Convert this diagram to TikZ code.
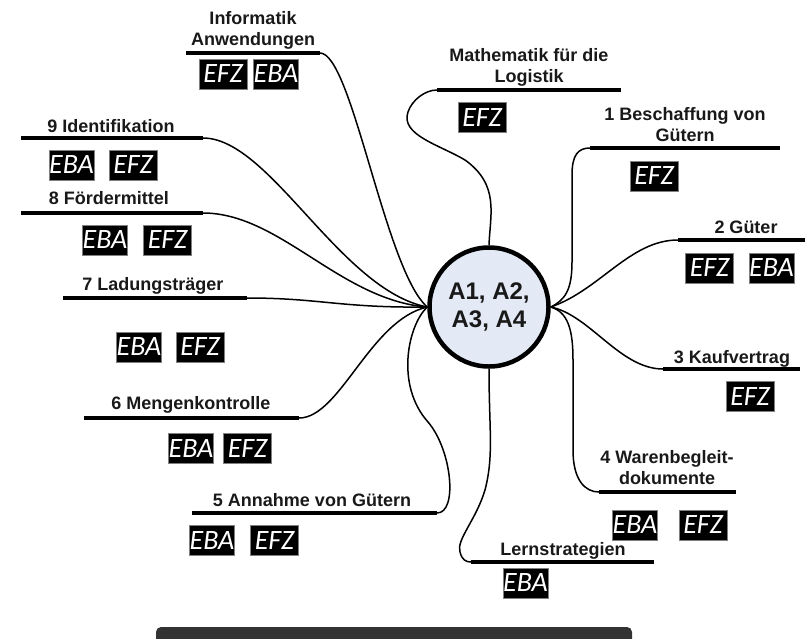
\documentclass[tikz,border=0pt]{standalone}
\usepackage{fontspec}
\setmainfont{Liberation Sans}
\newfontfamily\badgefont{Carlito}
\definecolor{cfill}{HTML}{E3EAF6}
\definecolor{barc}{HTML}{333333}
\begin{document}
\begin{tikzpicture}[x=1pt,y=-1pt,
  lbl/.style={font=\fontsize{18}{21}\selectfont\bfseries, text=black!90, inner sep=0pt, anchor=base},
  uline/.style={line width=4.2pt},
  conn/.style={line width=1.5pt},
  badge/.style={fill=black, draw=black!50, line width=0.8pt, text=white, inner sep=0pt,
    minimum height=30pt, font=\badgefont\itshape\fontsize{28}{28}\selectfont},
  efz/.style={badge, minimum width=48pt},
  eba/.style={badge, minimum width=44pt}]
\useasboundingbox (0,0) rectangle (805,638);

% centre
\node[circle, draw, line width=4.5pt, fill=cfill, minimum size=119pt, inner sep=0pt,
  align=center, font=\fontsize{24}{28}\selectfont\bfseries, text=black!90] (c) at (489,307) {A1, A2,\\A3, A4};

% underlines
\coordinate (inA) at (186,53);  \coordinate (inB) at (320,53);
\coordinate (maA) at (437,90);  \coordinate (maB) at (621,90);
\coordinate (b1A) at (590,148); \coordinate (b1B) at (780,148);
\coordinate (b2A) at (678,240); \coordinate (b2B) at (805,240);
\coordinate (b3A) at (663,369); \coordinate (b3B) at (800,369);
\coordinate (b4A) at (599,492); \coordinate (b4B) at (736,492);
\coordinate (lsA) at (471,562); \coordinate (lsB) at (654,562);
\coordinate (b5A) at (192,513); \coordinate (b5B) at (437,513);
\coordinate (b6A) at (84,418);  \coordinate (b6B) at (299,418);
\coordinate (b7A) at (63,298);  \coordinate (b7B) at (247,298);
\coordinate (b8A) at (21,213);  \coordinate (b8B) at (203,213);
\coordinate (b9A) at (21,138);  \coordinate (b9B) at (203,138);
\foreach \p in {in,ma,b1,b2,b3,b4,ls,b5,b6,b7,b8,b9}
  \draw[uline] (\p A) -- (\p B);

% labels
\node[lbl] (tin) at (253,45) {\begin{tabular}[b]{c}Informatik\\Anwendungen\end{tabular}};
\node[lbl] (tma) at (529,82) {\begin{tabular}[b]{c}Mathematik für die\\Logistik\end{tabular}};
\node[lbl] (t1) at (685,141) {\begin{tabular}[b]{c}1 Beschaffung von\\Gütern\end{tabular}};
\node[lbl] (t2) at (746,233) {2 Güter};
\node[lbl] (t3) at (732,363) {3 Kaufvertrag};
\node[lbl] (t4) at (667,484) {\begin{tabular}[b]{c}4 Warenbegleit-\\dokumente\end{tabular}};
\node[lbl] (tls) at (563,555) {Lernstrategien};
\node[lbl] (t5) at (312,506) {5 Annahme von Gütern};
\node[lbl] (t6) at (191,409) {6 Mengenkontrolle};
\node[lbl] (t7) at (153,290) {7 Ladungsträger};
\node[lbl] (t8) at (109,204) {8 Fördermittel};
\node[lbl] (t9) at (111,132) {9 Identifikation};

% badges
\node[efz] (inF) at (223,74) {EFZ};
\node[eba] (inE) at (276,74) {EBA};
\node[efz] (maF) at (482,117.5) {EFZ};
\node[efz] (b1F) at (654,176) {EFZ};
\node[efz] (b2F) at (709.5,268) {EFZ};
\node[eba] (b2E) at (771.5,268) {EBA};
\node[efz] (b3F) at (750,396.5) {EFZ};
\node[eba] (b4E) at (635,525) {EBA};
\node[efz] (b4F) at (703,525) {EFZ};
\node[eba] (lsE) at (525.5,583) {EBA};
\node[eba] (b5E) at (212,540.5) {EBA};
\node[efz] (b5F) at (274.5,540.5) {EFZ};
\node[eba] (b6E) at (191,448.5) {EBA};
\node[efz] (b6F) at (247.5,448.5) {EFZ};
\node[eba] (b7E) at (139,347) {EBA};
\node[efz] (b7F) at (200,347) {EFZ};
\node[eba] (b8E) at (105,240) {EBA};
\node[efz] (b8F) at (167.5,240) {EFZ};
\node[eba] (b9E) at (71.5,165) {EBA};
\node[efz] (b9F) at (133,165) {EFZ};

% connectors
\draw[conn] (c.west) .. controls (385,270) and (352,53) .. (inB);
\draw[conn] (c.west) .. controls (340,290) and (270,138) .. (b9B);
\draw[conn] (c.west) .. controls (340,300) and (280,213) .. (b8B);
\draw[conn] (c.west) .. controls (340,308) and (320,298) .. (b7B);
\draw[conn] (c.west) .. controls (370,320) and (340,418) .. (b6B);
\draw[conn] (c.west) .. controls (408,325) and (395,385) .. (428,422)
  .. controls (452,450) and (458,513) .. (b5B);
\draw[conn] (c.south) .. controls (489,430) and (494,455) .. (485,490)
  .. controls (476,520) and (456,540) .. (460,552)
  .. controls (462,560) and (466,562) .. (lsA);
\draw[conn] (c.north) .. controls (490,215) and (500,185) .. (465,160)
  .. controls (440,145) and (400,135) .. (408,112)
  .. controls (412,100) and (425,90) .. (maA);
\draw[conn] (c.east) .. controls (565,300) and (572,290) .. (572,262) -- (572,175)
  .. controls (572,155) and (578,148) .. (b1A);
\draw[conn] (c.east) .. controls (600,290) and (630,240) .. (b2A);
\draw[conn] (c.east) .. controls (590,315) and (620,369) .. (b3A);
\draw[conn] (c.east) .. controls (568,312) and (573,330) .. (573,360) -- (573,450)
  .. controls (573,480) and (585,492) .. (b4A);

% bottom bar
\begin{scope}
\clip (0,0) rectangle (805,638);
\fill[barc, rounded corners=5pt] (156,627) rectangle (632,660);
\end{scope}
\end{tikzpicture}
\end{document}
